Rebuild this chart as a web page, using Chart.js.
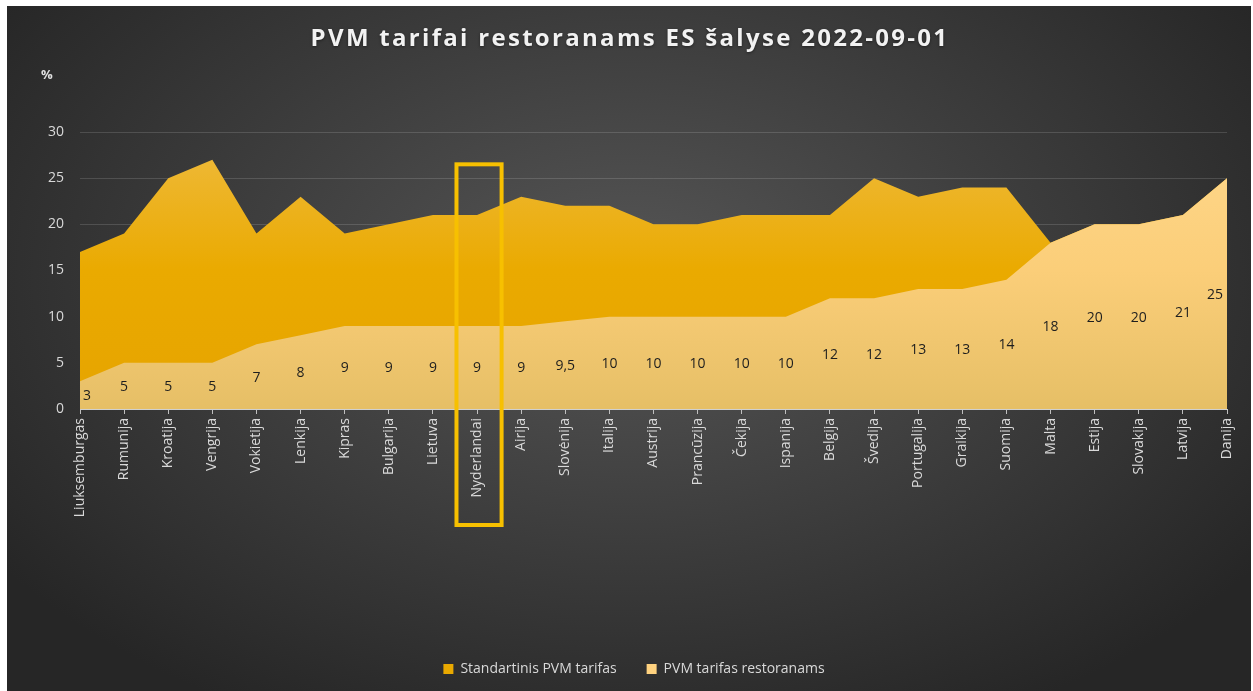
<!DOCTYPE html>
<html><head><meta charset="utf-8">
<script src="https://cdn.jsdelivr.net/npm/chart.js@4"></script>
<style>
html,body{margin:0;padding:0;background:#fff;width:1253px;height:691px;overflow:hidden}
#wrap{position:absolute;left:7px;top:6px;width:1244px;height:685px;
background:radial-gradient(ellipse 62% 72% at 50% 40%, #565656 0%, #3e3e3e 50%, #262626 100%);}
</style></head><body><div id="wrap"><canvas id="c"></canvas></div>
<script>
const countries = ['Liuksemburgas','Rumunija','Kroatija','Vengrija','Vokietija','Lenkija','Kipras','Bulgarija','Lietuva','Nyderlandai','Airija','Slovėnija','Italija','Austrija','Prancūzija','Čekija','Ispanija','Belgija','Švedija','Portugalija','Graikija','Suomija','Malta','Estija','Slovakija','Latvija','Danija'];
const standardRate = [17,19,25,27,19,23,19,20,21,21,23,22,22,20,20,21,21,21,25,23,24,24,18,20,20,21,25];
const restaurantRate = [3,5,5,5,7,8,9,9,9,9,9,9.5,10,10,10,10,10,12,12,13,13,14,18,20,20,21,25];
const yTicks = [0,5,10,15,20,25,30];
const seriesNames = ['Standartinis PVM tarifas','PVM tarifas restoranams'];
const titleText = 'PVM tarifai restoranams ES šalyse 2022-09-01';
const unitText = '%';
const highlighted = 'Nyderlandai';

const FONT = "'Open Sans', 'DejaVu Sans', sans-serif";
const legendColors = ['#e9a900', '#ffd27f'];

function grad(ctx, stops){
  const ch = ctx.chart; const a = ch.chartArea;
  if(!a) return stops[stops.length-1];
  const g = ch.ctx.createLinearGradient(0, a.top, 0, a.bottom);
  stops.forEach((c,i)=>g.addColorStop(i/(stops.length-1), c));
  return g;
}

const titlePlugin = {
  id:'ttl',
  afterDraw(chart){
    const ctx = chart.ctx;
    ctx.save();
    ctx.font = 'bold 24px ' + FONT;
    try { ctx.letterSpacing = '2.3px'; } catch(e){}
    ctx.fillStyle = '#f2f2f2';
    ctx.shadowColor = 'rgba(0,0,0,0.45)';
    ctx.shadowBlur = 3; ctx.shadowOffsetY = 1.5;
    ctx.textAlign = 'center'; ctx.textBaseline = 'middle';
    ctx.fillText(titleText, chart.width/2 + 1, 33);
    ctx.restore();
  }
};

const legendShift = {
  id:'legshift',
  afterLayout(chart){
    const l = chart.legend;
    if(l){ l.left += 17; l.right += 17; }
  }
};

const labelPlugin = {
  id:'vals',
  afterDatasetsDraw(chart){
    const meta = chart.getDatasetMeta(1);
    const ys = chart.scales.y; const a = chart.chartArea;
    const ctx = chart.ctx;
    ctx.save();
    ctx.font = '14px ' + FONT;
    ctx.fillStyle = '#1e1e1e';
    ctx.textAlign = 'center'; ctx.textBaseline = 'middle';
    meta.data.forEach((pt,i)=>{
      const v = restaurantRate[i];
      const txt = String(v).replace('.', ',');
      const w = ctx.measureText(txt).width;
      let x = pt.x;
      x = Math.max(a.left + 3 + w/2, Math.min(a.right - 4 - w/2, x));
      ctx.fillText(txt, x, ys.getPixelForValue(v/2) + 1);
    });
    ctx.restore();
  }
};

const highlightPlugin = {
  id:'hl',
  afterDraw(chart){
    const xs = chart.scales.x, ys = chart.scales.y;
    const i = countries.indexOf(highlighted);
    const cx = xs.getPixelForValue(i);
    const half = (xs.getPixelForValue(1) - xs.getPixelForValue(0)) / 2;
    const top = ys.getPixelForValue(26.5);
    const bottom = chart.chartArea.bottom + 116;
    const ctx = chart.ctx;
    ctx.save();
    ctx.strokeStyle = '#f7c000';
    ctx.lineWidth = 4;
    ctx.strokeRect(cx - half + 1.5, top, 2*half + 1, bottom - top);
    ctx.restore();
  }
};

const unitPlugin = {
  id:'unit',
  afterDraw(chart){
    const ctx = chart.ctx; const ys = chart.scales.y;
    ctx.save();
    ctx.font = 'bold 13px ' + FONT;
    ctx.fillStyle = '#e0e0e0';
    ctx.textAlign = 'left'; ctx.textBaseline = 'middle';
    ctx.fillText(unitText, ys.left + 34, chart.chartArea.top - 57);
    ctx.restore();
  }
};

new Chart(document.getElementById('c'), {
  type:'line',
  data:{
    labels: countries,
    datasets:[
      {label: seriesNames[0], data: standardRate, fill:'origin', order:2,
       backgroundColor: ctx=>grad(ctx, ['#efbb40','#eaaa00','#e6a400']),
       borderWidth:0, pointRadius:0, tension:0},
      {label: seriesNames[1], data: restaurantRate, fill:'origin', order:1,
       backgroundColor: ctx=>grad(ctx, ['#ffd88c','#fbce79','#e6bf66']),
       borderWidth:0, pointRadius:0, tension:0}
    ]
  },
  options:{
    responsive:true, maintainAspectRatio:false, animation:false,
    layout:{padding:{left:0,right:24,top:126,bottom:5}},
    font:{family:FONT},
    plugins:{
      title:{display:false},
      legend:{position:'bottom',
        labels:{color:'#d9d9d9', font:{family:FONT,size:14}, boxWidth:10, boxHeight:10, padding:30,
          generateLabels(chart){
            const items = Chart.defaults.plugins.legend.labels.generateLabels(chart);
            items.sort((p,q)=>p.datasetIndex - q.datasetIndex);
            items.forEach(it=>{const c = legendColors[it.datasetIndex]; it.fillStyle = c; it.strokeStyle = c; it.lineWidth = 0;});
            return items;
          }}},
      tooltip:{enabled:false}
    },
    scales:{
      x:{offset:false,
        ticks:{color:'#d9d9d9', font:{family:FONT,size:14}, maxRotation:90, minRotation:90, autoSkip:false, padding:4},
        grid:{display:true, drawOnChartArea:false, drawTicks:true, tickLength:5, color:'#bfbfbf'},
        border:{display:true, color:'#d0d0d0', width:1},
        afterFit(s){ s.height = 223; }
      },
      y:{min:0, max:30,
        afterBuildTicks(s){ s.ticks = yTicks.map(v=>({value:v})); },
        ticks:{color:'#d9d9d9', font:{family:FONT,size:14}, padding:16},
        grid:{color:'rgba(255,255,255,0.14)', drawTicks:false},
        border:{display:false},
        afterFit(s){ s.width = 73; }
      }
    }
  },
  plugins:[legendShift, labelPlugin, highlightPlugin, unitPlugin, titlePlugin]
});
</script></body></html>
